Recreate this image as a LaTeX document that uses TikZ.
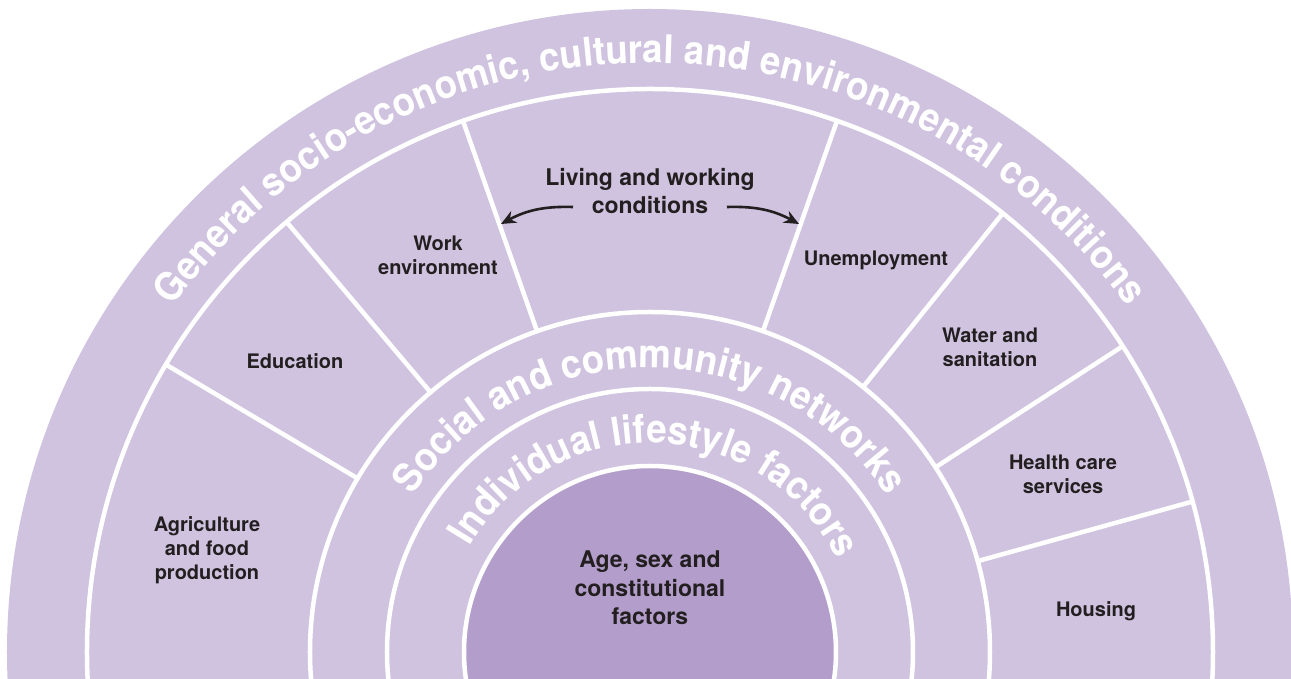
\documentclass[tikz,border=0pt]{standalone}
\usepackage{fontspec}
\setmainfont{TeX Gyre Heros}
\newfontfamily\ringfont{TeX Gyre Heros}[FakeStretch=0.93]
\usetikzlibrary{decorations.text,arrows.meta}
\definecolor{ringfill}{RGB}{208,195,224}
\definecolor{corefill}{RGB}{179,157,203}
\definecolor{inktext}{RGB}{35,31,32}
\newcommand\ringsize{\ringfont\bfseries\fontsize{39.5}{42}\selectfont}
\begin{document}
\begin{tikzpicture}[x=1pt,y=1pt,
  divider/.style={white,line width=4.5pt},
  sectorlabel/.style={text=inktext,font=\fontsize{20}{24}\selectfont\bfseries,align=center,inner sep=0pt},
  mainlabel/.style={text=inktext,font=\fontsize{23}{28.5}\selectfont\bfseries,align=center,inner sep=0pt},
  pointer/.style={draw=inktext,line width=2.6pt,-{Stealth[length=15pt,width=13pt]}},
  ringtext/.style={decorate,decoration={text along path,text align=center,text color=white,text={|\ringsize|#1}}}
]
\useasboundingbox (-650,-27) rectangle (641,652);

% rainbow bands and sector dividers
\begin{scope}
  \clip (-650,-27) rectangle (641,652);
  \fill[ringfill] (0,0) circle[radius=643];
  \fill[corefill] (0,0) circle[radius=186];
  \foreach \r in {563,340,263,186}
    \draw[divider] (0,0) circle[radius=\r];
  \foreach \a in {149.3,130.2,109.4,70.6,51.2,32.9,15.5}
    \draw[divider] (\a:340) -- (\a:563);
\end{scope}

% curved band titles
\path[ringtext={General socio-economic, cultural and environmental conditions}]
  (180:589) arc[start angle=180,end angle=0,radius=589];
\path[ringtext={Social and community networks}]
  (180:284) arc[start angle=180,end angle=0,radius=284];
\path[ringtext={Individual lifestyle factors}]
  (178:209) arc[start angle=178,end angle=-2,radius=209];

% sector labels
\node[sectorlabel] (agri) at (-443,102) {Agriculture\\and food\\production};
\node[sectorlabel] (edu) at (-355,291) {Education};
\node[sectorlabel] (work) at (-212,397) {Work\\environment};
\node[mainlabel] (living) at (0,461) {Living and working\\conditions};
\node[sectorlabel] (unemp) at (226,392) {Unemployment};
\node[sectorlabel] (water) at (340,305) {Water and\\sanitation};
\node[sectorlabel] (health) at (413,178) {Health care\\services};
\node[sectorlabel] (housing) at (446,41) {Housing};
\node[mainlabel] (core) at (0,64) {Age, sex and\\constitutional\\factors};

% pointers from the living and working conditions label
\coordinate (tailL) at (-77,445);
\coordinate (headL) at (-149,428);
\coordinate (tailR) at (77,445);
\coordinate (headR) at (149,428);
\draw[pointer] (tailL) to[bend right=15] (headL);
\draw[pointer] (tailR) to[bend left=15] (headR);
\end{tikzpicture}
\end{document}
